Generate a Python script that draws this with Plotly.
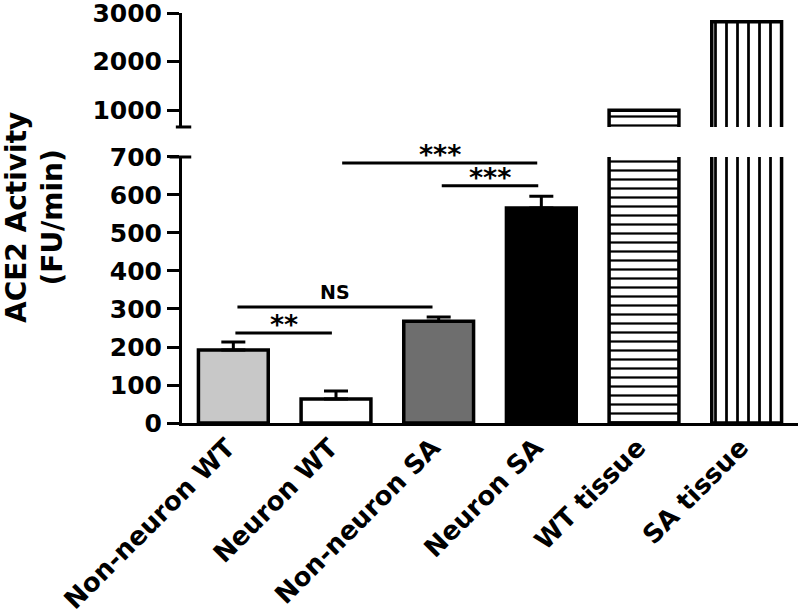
import plotly.graph_objects as go

# --- Datos ---
categorias = ["Non-neuron WT", "Neuron WT", "Non-neuron SA", "Neuron SA", "WT tissue", "SA tissue"]
actividad = [192, 63, 268, 566, 1005, 2820]
error_sup = [21, 21, 11, 31, 0, 0]
colores = ["#c8c8c8", "#ffffff", "#6e6e6e", "#000000", "#ffffff", "#ffffff"]
tramas = ["", "", "", "", "-", "|"]
tamanos_trama = [8, 8, 8, 8, 9, 11]

ticks_bajo = [0, 100, 200, 300, 400, 500, 600, 700]
ticks_alto = [1000, 2000, 3000]

# comparaciones: (texto, desde, hasta, altura)
comparaciones = [
    ("**", 0.02, 0.96, 237),
    ("NS", 0.04, 1.94, 305),
    ("***", 1.06, 2.96, 684),
    ("***", 2.03, 2.97, 624),
]

FUENTE = "DejaVu Sans"
NEGRO = "#000000"

fig = go.Figure()

# una traza por barra y por tramo del eje (inferior y superior)
for i, cat in enumerate(categorias):
    marker = dict(color=colores[i], line=dict(color=NEGRO, width=3.5))
    if tramas[i]:
        marker["pattern"] = dict(shape=tramas[i], size=tamanos_trama[i], solidity=0.25,
                                 fgcolor=NEGRO, bgcolor="#ffffff", fillmode="replace")
    error = None
    if error_sup[i] > 0:
        error = dict(type="data", symmetric=False, array=[error_sup[i]], arrayminus=[0],
                     color=NEGRO, thickness=3, width=12)
    fig.add_trace(go.Bar(x=[cat], y=[actividad[i]], width=0.68, marker=marker,
                         error_y=error, xaxis="x", yaxis="y", showlegend=False))
    if actividad[i] > 700:
        fig.add_trace(go.Bar(x=[cat], y=[actividad[i]], width=0.68, marker=marker,
                             xaxis="x2", yaxis="y2", showlegend=False))

# --- Comparaciones ---
for texto, x0, x1, h in comparaciones:
    estrella = texto.startswith("*")
    fig.add_shape(type="line", xref="x", yref="y", x0=x0, x1=x1, y0=h, y1=h,
                  line=dict(color=NEGRO, width=3))
    fig.add_annotation(x=(x0 + x1) / 2, y=h, xref="x", yref="y", text=texto,
                       showarrow=False, yanchor="bottom",
                       yshift=-9 if estrella else 2,
                       font=dict(family=FUENTE, size=27 if estrella else 19,
                                 color=NEGRO, weight="bold"))

# --- Marcas de corte del eje ---
fig.add_shape(type="line", xref="paper", yref="y2 domain", x0=-0.01, x1=0.015, y0=0, y1=0,
              line=dict(color=NEGRO, width=3))
fig.add_shape(type="line", xref="paper", yref="y domain", x0=-0.02, x1=0.015, y0=1, y1=1,
              line=dict(color=NEGRO, width=3))

# --- Título del eje ---
fig.add_annotation(x=0, y=0.5, xref="paper", yref="paper", xshift=-148,
                   text="ACE2 Activity<br>(FU/min)", textangle=-90, showarrow=False,
                   xanchor="center", yanchor="middle",
                   font=dict(family=FUENTE, size=28, color=NEGRO, weight="bold"))

eje_y = dict(showline=True, linecolor=NEGRO, linewidth=3, ticks="outside",
             ticklen=12, tickwidth=3, tickcolor=NEGRO, showgrid=False, zeroline=False,
             automargin=False, ticklabeloverflow="allow",
             tickfont=dict(family=FUENTE, size=25, color=NEGRO, weight="bold"))

fig.update_layout(
    width=800, height=614,
    paper_bgcolor="#ffffff", plot_bgcolor="#ffffff",
    margin=dict(l=182, r=2, t=13, b=191),
    barmode="overlay",
    xaxis=dict(domain=[0, 1], anchor="y", showline=True, linecolor=NEGRO, linewidth=3,
               ticks="", tickangle=-45, range=[-0.5, 5.5], automargin=False,
               ticklabelshift=-6, ticklabelstandoff=-4, ticklabeloverflow="allow",
               tickfont=dict(family=FUENTE, size=26, color=NEGRO, weight="bold")),
    xaxis2=dict(domain=[0, 1], anchor="y2", matches="x", visible=False),
    yaxis=dict(domain=[0, 0.6488], range=[0, 700], tickvals=ticks_bajo, **eje_y),
    yaxis2=dict(domain=[0.722, 1], range=[660, 3000], tickvals=ticks_alto, **eje_y),
)

# sin el margen por defecto del <body>, la figura ocupa toda la ventana
fig.write_html("out.html", config={"displayModeBar": False},
               post_script="document.body.style.margin = '0';")
